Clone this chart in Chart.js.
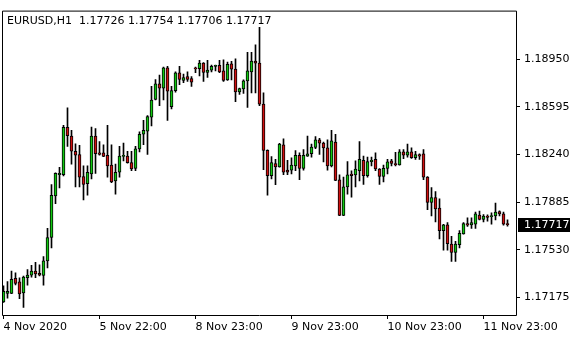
<!DOCTYPE html>
<html>
<head>
<meta charset="utf-8">
<script src="https://cdn.jsdelivr.net/npm/chart.js@4.4.1/dist/chart.umd.min.js"></script>
<style>
  html, body { margin: 0; padding: 0; background: #fff; }
</style>
</head>
<body>
<canvas id="priceChart" width="580" height="340"></canvas>
<script>
var symbol = 'EURUSD,H1';

var opens = [
  1.17141, 1.17206, 1.17206, 1.17318, 1.17291, 1.17209, 1.17322, 1.17342, 1.17371, 1.17354,
  1.17340, 1.17448, 1.17622, 1.17931, 1.18090, 1.18090, 1.18443, 1.18378, 1.18264, 1.18240,
  1.18076, 1.18023, 1.18095, 1.18378, 1.18253, 1.18253, 1.18233, 1.18161, 1.18043, 1.18108,
  1.18226, 1.18228, 1.18180, 1.18137, 1.18282, 1.18392, 1.18414, 1.18518, 1.18651, 1.18767,
  1.18735, 1.18885, 1.18597, 1.18716, 1.18849, 1.18791, 1.18820, 1.18805, 1.18881, 1.18880,
  1.18921, 1.18851, 1.18868, 1.18897, 1.18905, 1.18863, 1.18796, 1.18916, 1.18876, 1.18706,
  1.18728, 1.18789, 1.18856, 1.18936, 1.18921, 1.18615, 1.18271, 1.18083, 1.18173, 1.18148,
  1.18313, 1.18124, 1.18124, 1.18155, 1.18233, 1.18137, 1.18228, 1.18247, 1.18293, 1.18349,
  1.18325, 1.18289, 1.18155, 1.18332, 1.18052, 1.17786, 1.17999, 1.18095, 1.18088, 1.18119,
  1.18197, 1.18083, 1.18187, 1.18204, 1.18132, 1.18076, 1.18137, 1.18192, 1.18173, 1.18163,
  1.18260, 1.18235, 1.18260, 1.18216, 1.18240, 1.18245, 1.18071, 1.17883, 1.17919, 1.17840,
  1.17673, 1.17716, 1.17572, 1.17511, 1.17569, 1.17648, 1.17726, 1.17716, 1.17721, 1.17789,
  1.17757, 1.17782, 1.17777, 1.17782, 1.17815, 1.17798, 1.17726
];
var highs = [
  1.17262, 1.17293, 1.17371, 1.17359, 1.17322, 1.17335, 1.17383, 1.17414, 1.17436, 1.17419,
  1.17480, 1.17690, 1.18016, 1.18103, 1.18144, 1.18458, 1.18588, 1.18421, 1.18320, 1.18308,
  1.18155, 1.18155, 1.18445, 1.18434, 1.18337, 1.18313, 1.18458, 1.18313, 1.18168, 1.18300,
  1.18325, 1.18264, 1.18264, 1.18300, 1.18409, 1.18494, 1.18530, 1.18747, 1.18798, 1.18832,
  1.18892, 1.18897, 1.18747, 1.18856, 1.18897, 1.18839, 1.18856, 1.18820, 1.18892, 1.18941,
  1.18925, 1.18941, 1.18907, 1.18907, 1.18941, 1.18945, 1.18929, 1.18934, 1.18952, 1.18735,
  1.18796, 1.19001, 1.19001, 1.19057, 1.19187, 1.18699, 1.18274, 1.18224, 1.18204, 1.18324,
  1.18356, 1.18197, 1.18216, 1.18269, 1.18253, 1.18276, 1.18378, 1.18318, 1.18373, 1.18361,
  1.18332, 1.18349, 1.18421, 1.18390, 1.18088, 1.18071, 1.18187, 1.18119, 1.18192, 1.18337,
  1.18228, 1.18221, 1.18221, 1.18253, 1.18135, 1.18161, 1.18204, 1.18204, 1.18257, 1.18276,
  1.18276, 1.18318, 1.18289, 1.18264, 1.18245, 1.18276, 1.18075, 1.17994, 1.17963, 1.17909,
  1.17719, 1.17733, 1.17630, 1.17593, 1.17673, 1.17733, 1.17769, 1.17769, 1.17811, 1.17818,
  1.17793, 1.17791, 1.17806, 1.17878, 1.17820, 1.17811, 1.17754
];
var lows = [
  1.17139, 1.17170, 1.17204, 1.17269, 1.17166, 1.17101, 1.17267, 1.17327, 1.17322, 1.17335,
  1.17267, 1.17395, 1.17545, 1.17873, 1.17992, 1.18081, 1.18300, 1.18168, 1.17999, 1.17999,
  1.17902, 1.17938, 1.18059, 1.18100, 1.18235, 1.18224, 1.18071, 1.18030, 1.17945, 1.18071,
  1.18192, 1.18175, 1.18119, 1.18119, 1.18260, 1.18313, 1.18240, 1.18453, 1.18646, 1.18603,
  1.18646, 1.18494, 1.18579, 1.18704, 1.18760, 1.18776, 1.18784, 1.18747, 1.18849, 1.18825,
  1.18784, 1.18815, 1.18856, 1.18863, 1.18849, 1.18784, 1.18791, 1.18796, 1.18634, 1.18687,
  1.18695, 1.18590, 1.18699, 1.18699, 1.18603, 1.18127, 1.17938, 1.18059, 1.18016, 1.18146,
  1.18090, 1.18090, 1.18095, 1.18119, 1.18052, 1.18124, 1.18226, 1.18221, 1.18284, 1.18240,
  1.18185, 1.18124, 1.18148, 1.18045, 1.17784, 1.17784, 1.17945, 1.17922, 1.17999, 1.18043,
  1.18018, 1.18071, 1.18155, 1.18119, 1.18018, 1.18035, 1.18095, 1.18155, 1.18155, 1.18161,
  1.18209, 1.18221, 1.18211, 1.18204, 1.18204, 1.18052, 1.17830, 1.17782, 1.17738, 1.17612,
  1.17528, 1.17528, 1.17443, 1.17443, 1.17545, 1.17646, 1.17704, 1.17690, 1.17690, 1.17753,
  1.17738, 1.17743, 1.17721, 1.17753, 1.17782, 1.17714, 1.17706
];
var closes = [
  1.17221, 1.17221, 1.17311, 1.17279, 1.17202, 1.17327, 1.17342, 1.17371, 1.17351, 1.17342,
  1.17448, 1.17622, 1.17936, 1.18100, 1.18100, 1.18443, 1.18380, 1.18264, 1.18235, 1.18071,
  1.18018, 1.18108, 1.18378, 1.18247, 1.18240, 1.18226, 1.18155, 1.18035, 1.18108, 1.18228,
  1.18233, 1.18180, 1.18132, 1.18282, 1.18390, 1.18421, 1.18523, 1.18646, 1.18767, 1.18735,
  1.18885, 1.18711, 1.18716, 1.18849, 1.18800, 1.18813, 1.18800, 1.18779, 1.18878, 1.18921,
  1.18851, 1.18868, 1.18897, 1.18905, 1.18856, 1.18791, 1.18912, 1.18876, 1.18706, 1.18731,
  1.18789, 1.18863, 1.18936, 1.18921, 1.18615, 1.18271, 1.18083, 1.18180, 1.18148, 1.18318,
  1.18108, 1.18108, 1.18161, 1.18233, 1.18137, 1.18233, 1.18245, 1.18296, 1.18349, 1.18325,
  1.18289, 1.18155, 1.18342, 1.18047, 1.17786, 1.17999, 1.18088, 1.18083, 1.18132, 1.18204,
  1.18083, 1.18187, 1.18197, 1.18132, 1.18076, 1.18137, 1.18185, 1.18173, 1.18163, 1.18260,
  1.18235, 1.18260, 1.18216, 1.18240, 1.18228, 1.18071, 1.17883, 1.17919, 1.17835, 1.17673,
  1.17716, 1.17576, 1.17511, 1.17572, 1.17653, 1.17726, 1.17714, 1.17733, 1.17798, 1.17757,
  1.17782, 1.17772, 1.17782, 1.17811, 1.17798, 1.17721, 1.17717
];

var xTickIdx = [0, 24, 48, 72, 96, 120];
var xTickLabels = ['4 Nov 2020', '5 Nov 22:00', '8 Nov 23:00', '9 Nov 23:00', '10 Nov 23:00', '11 Nov 23:00'];
var yTickVals = [1.17175, 1.17530, 1.17885, 1.18240, 1.18595, 1.18950];

var bullColor = '#10c810';
var bearColor = '#d01010';
var fontFamily = '"DejaVu Sans", sans-serif';

Chart.defaults.font.family = fontFamily;
Chart.defaults.font.size = 11;
Chart.defaults.color = '#000';

var last = opens.length - 1;

// title text + frame + current price box
var mtOverlay = {
  id: 'mtOverlay',
  afterDraw: function(chart) {
    var ctx = chart.ctx;
    var a = chart.chartArea;
    ctx.save();
    ctx.strokeStyle = '#000';
    ctx.lineWidth = 1;
    ctx.beginPath();
    ctx.moveTo(a.left + 0.5, a.top + 0.5);
    ctx.lineTo(a.right + 0.5, a.top + 0.5);
    ctx.lineTo(a.right + 0.5, a.bottom - 0.5);
    ctx.lineTo(a.left + 0.5, a.bottom - 0.5);
    ctx.closePath();
    ctx.stroke();

    ctx.font = '11px ' + fontFamily;
    ctx.fillStyle = '#000';
    ctx.textBaseline = 'middle';
    ctx.textAlign = 'left';
    ctx.fillText(symbol, a.left + 5, a.top + 10.5);
    var ohlc = [opens[last], highs[last], lows[last], closes[last]].map(function(v) { return v.toFixed(5); }).join(' ');
    ctx.fillText(ohlc, a.left + 77, a.top + 10.5);

    var y = Math.round(chart.scales.y.getPixelForValue(closes[last]));
    ctx.fillStyle = '#000';
    ctx.fillRect(a.right + 2, y - 7, 52, 14);
    ctx.fillStyle = '#fff';
    ctx.fillText(closes[last].toFixed(5), a.right + 8, y);
    ctx.restore();
  }
};

var ctx = document.getElementById('priceChart').getContext('2d');
var chart = new Chart(ctx, {
  type: 'bar',
  data: {
    datasets: [{
      label: 'body',
      data: opens.map(function(o, i) { return { x: i, y: [o, closes[i]] }; }),
      backgroundColor: opens.map(function(o, i) { return closes[i] >= o ? bullColor : bearColor; }),
      borderColor: '#000',
      borderWidth: 1,
      borderSkipped: false,
      barThickness: 3,
      minBarLength: 1,
      grouped: false
    }, {
      label: 'wick',
      data: lows.map(function(l, i) { return { x: i, y: [l, highs[i]] }; }),
      backgroundColor: '#000',
      borderWidth: 0,
      barThickness: 1,
      grouped: false
    }]
  },
  options: {
    responsive: false,
    animation: false,
    events: [],
    layout: { padding: { left: 2, top: 2, right: 0, bottom: 0 } },
    plugins: {
      legend: { display: false },
      tooltip: { enabled: false },
      title: { display: false }
    },
    scales: {
      x: {
        type: 'linear',
        offset: false,
        min: -0.375,
        max: 128.125,
        grid: { offset: false, drawOnChartArea: false, drawTicks: true, tickLength: 3, color: '#000' },
        border: { display: false },
        afterBuildTicks: function(axis) {
          axis.ticks = xTickIdx.map(function(v) { return { value: v }; });
        },
        afterFit: function(axis) { axis.height = 24; },
        ticks: {
          autoSkip: false,
          maxRotation: 0,
          align: 'start',
          padding: 2,
          callback: function(value, index) { return xTickLabels[index]; }
        }
      },
      y: {
        position: 'right',
        min: 1.17037,
        max: 1.19312,
        grid: { drawOnChartArea: false, drawTicks: true, tickLength: 4, color: '#000' },
        border: { display: false },
        afterBuildTicks: function(axis) {
          axis.ticks = yTickVals.map(function(v) { return { value: v }; });
        },
        afterFit: function(axis) { axis.width = 64; },
        ticks: {
          padding: 4,
          callback: function(value) { return value.toFixed(5); }
        }
      }
    }
  },
  plugins: [mtOverlay]
});
</script>
</body>
</html>
